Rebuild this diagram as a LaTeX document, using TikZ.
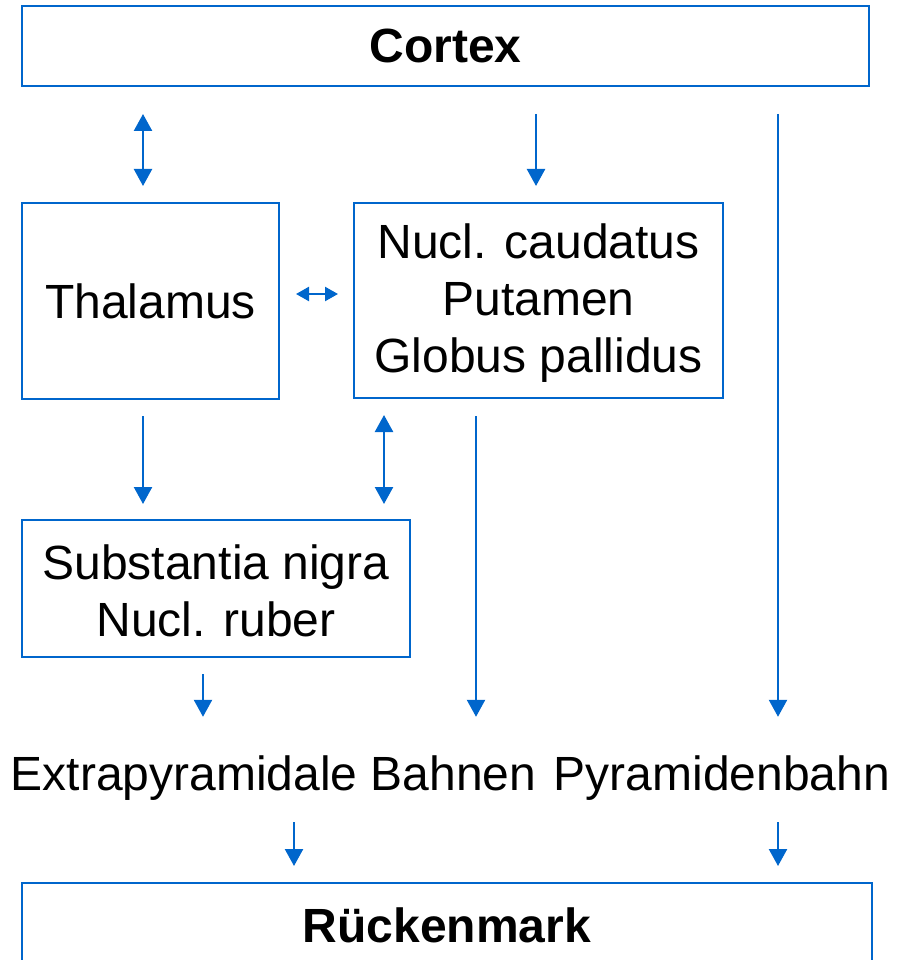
\documentclass[tikz,border=0pt]{standalone}
\usepackage{fontspec}
\setmainfont{Liberation Sans}
\usetikzlibrary{arrows.meta}
\definecolor{lblue}{HTML}{0066CC}
\begin{document}
\begin{tikzpicture}[x=1pt,y=-1pt,
  box/.style={draw=lblue,line width=2pt,inner sep=0pt,align=center,
    font=\fontsize{48}{57}\selectfont},
  lbl/.style={inner sep=0pt,text height=35pt,text depth=10pt,anchor=base,
    font=\fontsize{48}{57}\selectfont},
  arr/.style={draw=lblue,line width=2.4pt,-{Triangle[width=18pt,length=17pt]}},
  darr/.style={draw=lblue,line width=2.4pt,{Triangle[width=18pt,length=17pt]}-{Triangle[width=18pt,length=17pt]}},
  harr/.style={draw=lblue,line width=2.4pt,{Triangle[width=14pt,length=13pt]}-{Triangle[width=14pt,length=13pt]}}]
\useasboundingbox (0,0) rectangle (896,960);
\node[box,minimum width=847pt,minimum height=80pt,font=\fontsize{48}{57}\selectfont\bfseries] (cortex) at (445.5,46) {Cortex};
\node[box,minimum width=257pt,minimum height=196pt] (thal) at (150.5,301) {Thalamus};
\node[box,minimum width=369pt,minimum height=195pt] (nucl) at (538.5,300.5) {\rule{0pt}{40pt}Nucl. caudatus\\Putamen\\Globus pallidus};
\node[box,minimum width=388pt,minimum height=137pt] (subst) at (216,588.5) {\rule{0pt}{40pt}Substantia nigra\\Nucl. ruber};
\node[box,minimum width=850pt,minimum height=84pt,font=\fontsize{48}{57}\selectfont\bfseries] (rueck) at (447,925) {Rückenmark};
\node[lbl] (extra) at (273.5,790) {Extrapyramidale Bahnen};
\node[lbl] (pyr) at (722,790) {Pyramidenbahn};
% connectors
\draw[darr,shorten <=27pt,shorten >=16pt] ([xshift=-7.5pt]thal.north |- cortex.south) -- ([xshift=-7.5pt]thal.north);
\draw[arr,shorten <=27pt,shorten >=16pt] ([xshift=-2.5pt]nucl.north |- cortex.south) -- ([xshift=-2.5pt]nucl.north);
\draw[arr,shorten <=27pt,shorten >=38pt] ([xshift=56pt]pyr.north |- cortex.south) -- ([xshift=56pt]pyr.north);
\draw[harr,shorten <=16pt,shorten >=15pt] ([yshift=7pt]thal.east) -- ([yshift=7pt]thal.east -| nucl.west);
\draw[arr,shorten <=16pt,shorten >=15pt] ([xshift=-7.5pt]thal.south) -- ([xshift=-7.5pt]thal.south |- subst.north);
\draw[darr,shorten <=16pt,shorten >=15pt] ([xshift=168pt]subst.north |- nucl.south) -- ([xshift=168pt]subst.north);
\draw[arr,shorten <=17pt,shorten >=38pt] ([xshift=-62.5pt]nucl.south) -- ([xshift=-62.5pt]nucl.south |- extra.north);
\draw[arr,shorten <=16pt,shorten >=38pt] ([xshift=-13pt]subst.south) -- ([xshift=-13pt]subst.south |- extra.north);
\draw[arr,shorten <=22pt,shorten >=16pt] ([xshift=20.5pt]extra.south) -- ([xshift=20.5pt]extra.south |- rueck.north);
\draw[arr,shorten <=22pt,shorten >=16pt] ([xshift=56pt]pyr.south) -- ([xshift=56pt]pyr.south |- rueck.north);
\end{tikzpicture}
\end{document}
